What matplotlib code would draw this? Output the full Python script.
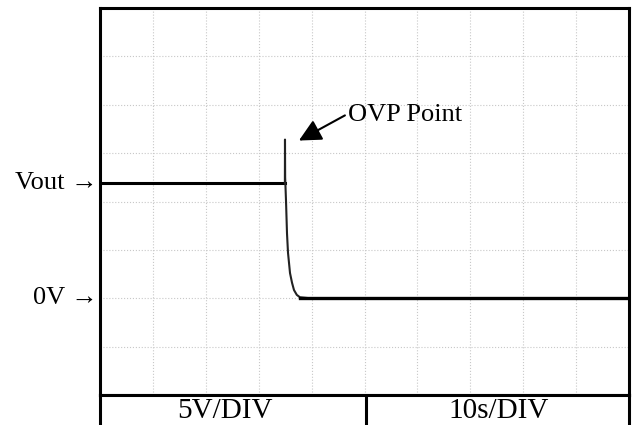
import numpy as np
import matplotlib.pyplot as plt

plt.rcParams['font.family'] = ['Liberation Serif', 'DejaVu Serif']

# trace (time in s, voltage in V)
t_pre = [0, 34.95]
v_pre = [11.9, 11.9]
t_trans = [34.95, 34.97, 35.0, 35.16, 35.35, 35.54, 35.92, 36.3, 36.67, 37.2, 37.8, 39.7]
v_trans = [11.9, 16.4, 12.5, 10.1, 6.7, 4.7, 2.6, 1.6, 0.85, 0.35, 0.1, 0.0]
t_post = [37.8, 100]
v_post = [0.0, 0.0]

vout_level = 11.9
zero_level = 0.0
ovp_head = (37.6, 16.3)
ovp_tail = (46.3, 18.9)
ovp_text_xy = (46.9, 18.9)

volt_div = '5V/DIV'
time_div = '10s/DIV'

W, H = 639, 425
fig = plt.figure(figsize=(W / 100, H / 100), dpi=100)
ax = fig.add_axes([100 / W, 30 / H, 529 / W, 387 / H])

ax.plot(t_pre, v_pre, color='black', lw=2.2)
ax.plot(t_trans, v_trans, color='#222222', lw=1.5)
ax.plot(t_post, v_post, color='black', lw=2.4)

ax.set_xlim(0, 100)
ax.set_ylim(-10, 30)
ax.set_xticks(np.arange(0, 101, 10))
ax.set_yticks(np.arange(-10, 31, 5))
ax.tick_params(length=0, labelbottom=False, labelleft=False)
ax.grid(True, linestyle=':', color='#c8c8c8', lw=0.8)
for s in ax.spines.values():
    s.set_linewidth(2.2)

ax.annotate('', xy=ovp_head, xytext=ovp_tail,
            arrowprops=dict(arrowstyle='-|>,head_length=0.9,head_width=0.45',
                            color='black', lw=1.5, shrinkA=0, shrinkB=0,
                            mutation_scale=15))
ax.text(ovp_text_xy[0], ovp_text_xy[1], 'OVP Point', fontsize=19,
        va='center', ha='left')

trans = ax.get_yaxis_transform()
ax.text(-0.005, vout_level, 'Vout \u2192', transform=trans, ha='right',
        va='center', fontsize=19)
ax.text(-0.005, zero_level, '0V \u2192', transform=trans, ha='right',
        va='center', fontsize=19)

# scale strip under the screen
ax2 = fig.add_axes([100 / W, -20 / H, 529 / W, 50 / H])
ax2.set_xlim(0, 10)
ax2.set_ylim(0, 1)
ax2.set_xticks([])
ax2.set_yticks([])
ax2.axvline(5.03, color='black', lw=2.2)
for s in ax2.spines.values():
    s.set_linewidth(2.2)
ax2.text(2.36, 0.67, volt_div, ha='center', va='center', fontsize=21)
ax2.text(7.54, 0.67, time_div, ha='center', va='center', fontsize=21)

fig.savefig('out.png', dpi=100)
